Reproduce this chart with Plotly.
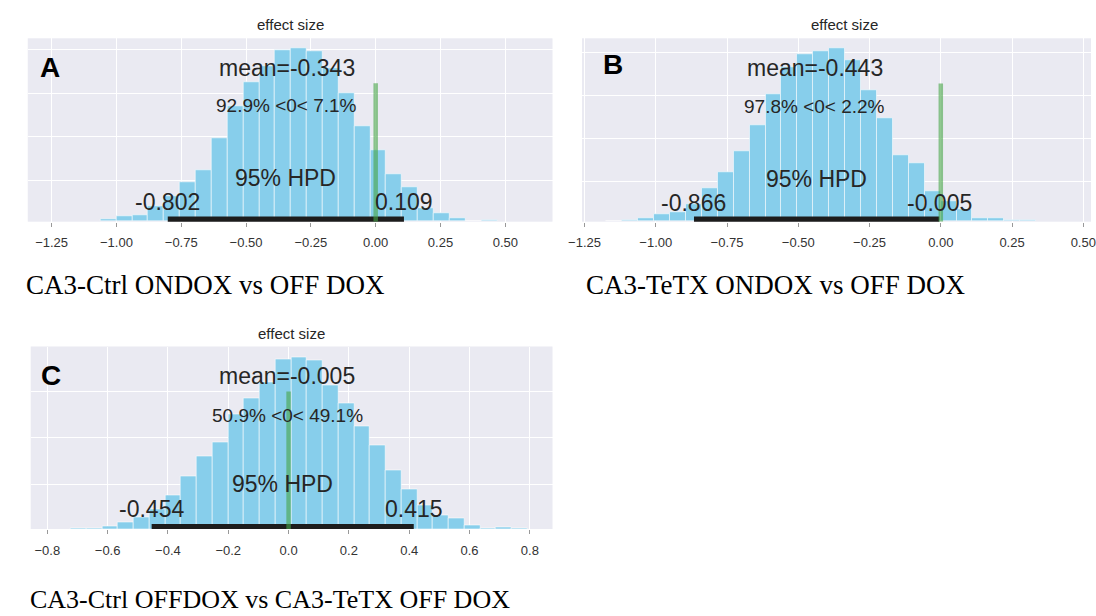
import plotly.graph_objects as go

# ---------------- data ----------------
# Panel A: CA3-Ctrl ON DOX vs OFF DOX
a_bin_start = -1.061
a_bin_width = 0.0612
a_counts = [7, 17, 20, 45, 75, 117, 155, 250, 345, 417, 465, 515, 520, 512, 460,
            385, 285, 215, 142, 103, 39, 25, 10, 2, 5]
a_mean = -0.343
a_hpd = [-0.802, 0.109]
a_pct = "92.9% <0< 7.1%"

# Panel B: CA3-TeTX ON DOX vs OFF DOX
b_bin_start = -1.1734
b_bin_width = 0.05584
b_counts = [2, 4, 10, 22, 29, 52, 99, 147, 209, 287, 380, 462, 500, 509, 517,
            482, 392, 307, 199, 174, 92, 60, 36, 11, 11, 3, 3]
b_mean = -0.443
b_hpd = [-0.866, -0.005]
b_pct = "97.8% <0< 2.2%"

# Panel C: CA3-Ctrl OFF DOX vs CA3-TeTX OFF DOX
c_bin_start = -0.7223
c_bin_width = 0.05222
c_counts = [2, 2, 9, 21, 34, 60, 102, 159, 217, 260, 345, 392, 440, 510, 517,
            507, 432, 377, 309, 252, 177, 120, 70, 42, 32, 12, 2, 5, 2]
c_mean = -0.005
c_hpd = [-0.454, 0.415]
c_pct = "50.9% <0< 49.1%"

ref_val = 0.0
letters = ["A", "B", "C"]
captions = ["CA3-Ctrl ONDOX vs OFF DOX", "CA3-TeTX ONDOX vs OFF DOX",
            "CA3-Ctrl OFFDOX vs CA3-TeTX OFF DOX"]
a_ticks = [-1.25, -1.0, -0.75, -0.5, -0.25, 0.0, 0.25, 0.5]
c_ticks = [-0.8, -0.6, -0.4, -0.2, 0.0, 0.2, 0.4, 0.6, 0.8]

# ---------------- layout config (pixels) ----------------
W, H = 1096, 616
def px(x): return x / W
def py(y): return 1 - y / H

panels = [
    dict(start=a_bin_start, width=a_bin_width, counts=a_counts, mean=a_mean, hpd=a_hpd,
         pct=a_pct, dom_x=(14, 548), dom_y=(38.3, 221.7), xr=[-1.342, 0.682], yr=[0, 550],
         ygrid=[125, 255, 385, 515], ticks=a_ticks, fmt=".2f", ref_top=415,
         text_y=(460, 347, 130, 60), letter_pos=(37, 68), title_x=281, title_y=24,
         cap_pos=(10, 285), cap_size=27),
    dict(start=b_bin_start, width=b_bin_width, counts=b_counts, mean=b_mean, hpd=b_hpd,
         pct=b_pct, dom_x=(578, 1096), dom_y=(38.3, 221.7), xr=[-1.259, 0.527], yr=[0, 547],
         ygrid=[121, 248, 375, 504], ticks=a_ticks, fmt=".2f", ref_top=412,
         text_y=(457, 344, 127, 57), letter_pos=(610, 64), title_x=845, title_y=24,
         cap_pos=(580, 285), cap_size=27),
    dict(start=c_bin_start, width=c_bin_width, counts=c_counts, mean=c_mean, hpd=c_hpd,
         pct=c_pct, dom_x=(17, 548), dom_y=(346.5, 529), xr=[-0.855, 0.875], yr=[0, 549],
         ygrid=[134, 274, 414], ticks=c_ticks, fmt=".1f", ref_top=414,
         text_y=(459, 342, 135, 59), letter_pos=(38, 375), title_x=282, title_y=333,
         cap_pos=(14, 599), cap_size=26),
]

BG = "#EAEAF2"
BAR = "#87CEEB"
TXT = "#262626"
SANS = "Liberation Sans, Arial, sans-serif"
SERIF = "Liberation Serif, Times New Roman, serif"

fig = go.Figure()
annotations = []

for i, p in enumerate(panels):
    n = i + 1
    xa = "x" if n == 1 else f"x{n}"
    ya = "y" if n == 1 else f"y{n}"
    centers = [p["start"] + (k + 0.5) * p["width"] for k in range(len(p["counts"]))]
    fig.add_trace(go.Bar(x=centers, y=p["counts"], width=p["width"],
                         marker=dict(color=BAR, line=dict(color="rgba(255,255,255,0.55)", width=1)),
                         xaxis=xa, yaxis=ya, showlegend=False, hoverinfo="skip"))
    # HPD line
    fig.add_trace(go.Scatter(x=p["hpd"], y=[7, 7], mode="lines",
                             line=dict(color="#1c1c1c", width=5.5),
                             xaxis=xa, yaxis=ya, showlegend=False, hoverinfo="skip"))
    # reference line
    fig.add_trace(go.Scatter(x=[ref_val, ref_val], y=[0, p["ref_top"]], mode="lines",
                             line=dict(color="rgba(70,165,70,0.6)", width=4.5),
                             xaxis=xa, yaxis=ya, showlegend=False, hoverinfo="skip"))

    xkey = "xaxis" if n == 1 else f"xaxis{n}"
    ykey = "yaxis" if n == 1 else f"yaxis{n}"
    fig.update_layout(**{
        xkey: dict(domain=[px(p["dom_x"][0]), px(p["dom_x"][1])], range=p["xr"],
                   anchor=ya, tickvals=p["ticks"], tickformat=p["fmt"],
                   showgrid=True, gridcolor="white", gridwidth=1.3, zeroline=False,
                   showline=False, ticks="outside", ticklen=4, tickcolor="#999",
                   ticklabelstandoff=5, ticklabeloverflow="allow",
                   tickfont=dict(family=SANS, size=13, color="#333333")),
        ykey: dict(domain=[py(p["dom_y"][1]), py(p["dom_y"][0])], range=p["yr"],
                   anchor=xa, tickvals=p["ygrid"], showticklabels=False,
                   showgrid=True, gridcolor="white", gridwidth=1.3, zeroline=False,
                   showline=False, ticks=""),
    })

    hl, hr = p["hpd"]
    ty = p["text_y"]
    big = dict(family=SANS, color=TXT, size=23)
    common = dict(xref=xa, yref=ya, showarrow=False, xanchor="center", yanchor="middle")
    annotations += [
        dict(x=p["mean"], y=ty[0], text=f"mean={p['mean']:.3f}", font=big, **common),
        dict(x=p["mean"], y=ty[1], text=p["pct"], font=dict(family=SANS, color=TXT, size=19), **common),
        dict(x=(hl + hr) / 2, y=ty[2], text="95% HPD", font=big, **common),
        dict(x=hl, y=ty[3], text=f"{hl:.3f}", font=big, **common),
        dict(x=hr, y=ty[3], text=f"{hr:.3f}", font=big, **common),
    ]
    annotations.append(dict(x=px(p["title_x"]), y=py(p["title_y"]), xref="paper", yref="paper",
                            xanchor="center", yanchor="middle",
                            text="effect size", showarrow=False,
                            font=dict(family=SANS, size=15, color=TXT)))
    annotations.append(dict(x=px(p["letter_pos"][0]), y=py(p["letter_pos"][1]), xref="paper",
                            yref="paper", xanchor="center", yanchor="middle",
                            text=f"<b>{letters[i]}</b>", showarrow=False,
                            font=dict(family=SANS, size=28, color="black")))
    annotations.append(dict(x=px(p["cap_pos"][0]), y=py(p["cap_pos"][1]), xref="paper",
                            yref="paper", xanchor="left", yanchor="middle",
                            text=captions[i], showarrow=False,
                            font=dict(family=SERIF, size=p["cap_size"], color="black")))

fig.update_layout(width=W, height=H, margin=dict(l=0, r=0, t=0, b=0),
                  paper_bgcolor="white", plot_bgcolor=BG, annotations=annotations,
                  bargap=0)

fig.write_html("out.html")
